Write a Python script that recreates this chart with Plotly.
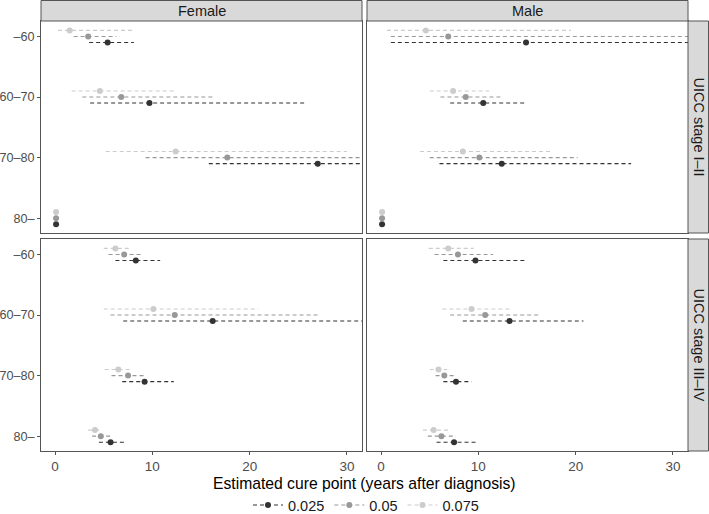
import plotly.graph_objects as go

# ---------------- data ----------------
ages = ["–60", "60–70", "70–80", "80–"]
levels = ["0.025", "0.05", "0.075"]
level_colors = ["#333333", "#989898", "#cccccc"]
sexes = ["Female", "Male"]
stages = ["UICC stage I–II", "UICC stage III–IV"]
x_ticks = [0, 10, 20, 30]

# each list: rows = levels (0.025, 0.05, 0.075), columns = age groups
female_I_II_est = [[5.4, 9.7, 27.0, 0.1], [3.4, 6.8, 17.7, 0.1], [1.5, 4.6, 12.4, 0.1]]
female_I_II_lo = [[3.5, 3.6, 15.8, 0.1], [1.9, 2.8, 9.3, 0.1], [0.3, 1.7, 5.2, 0.1]]
female_I_II_hi = [[8.1, 25.7, 40.0, 0.1], [6.3, 16.3, 38.0, 0.1], [8.1, 12.5, 30.0, 0.1]]

male_I_II_est = [[14.9, 10.5, 12.4, 0.1], [6.9, 8.7, 10.1, 0.1], [4.6, 7.4, 8.4, 0.1]]
male_I_II_lo = [[1.0, 7.1, 6.0, 0.1], [1.0, 6.1, 5.0, 0.1], [0.6, 5.0, 4.0, 0.1]]
male_I_II_hi = [[45.0, 15.0, 25.7, 0.1], [40.0, 12.3, 20.2, 0.1], [19.5, 11.1, 17.5, 0.1]]

female_III_IV_est = [[8.3, 16.2, 9.2, 5.7], [7.1, 12.3, 7.5, 4.7], [6.2, 10.1, 6.5, 4.1]]
female_III_IV_lo = [[6.2, 7.0, 6.9, 4.5], [5.5, 5.7, 5.8, 3.8], [5.0, 5.0, 5.1, 3.4]]
female_III_IV_hi = [[10.8, 40.0, 12.2, 7.1], [9.1, 27.1, 9.4, 5.7], [7.8, 20.9, 8.0, 4.6]]

male_III_IV_est = [[9.7, 13.2, 7.7, 7.5], [7.9, 10.7, 6.5, 6.2], [6.9, 9.3, 5.9, 5.4]]
male_III_IV_lo = [[6.4, 8.4, 6.4, 5.7], [5.5, 7.1, 5.6, 4.8], [4.9, 6.3, 5.0, 4.3]]
male_III_IV_hi = [[14.9, 20.8, 9.3, 9.9], [11.5, 16.2, 7.6, 7.7], [9.5, 13.4, 6.8, 6.9]]

panels = [
    (1, female_I_II_est, female_I_II_lo, female_I_II_hi),
    (2, male_I_II_est, male_I_II_lo, male_I_II_hi),
    (3, female_III_IV_est, female_III_IV_lo, female_III_IV_hi),
    (4, male_III_IV_est, male_III_IV_lo, male_III_IV_hi),
]

# ---------------- layout geometry ----------------
W, H = 709, 514
def px_x(p): return p / W
def px_y(p): return 1 - p / H

col_dom = [[px_x(41), px_x(362)], [px_x(367), px_x(688)]]
row_dom = [[px_y(233), px_y(21)], [px_y(451), px_y(239)]]

dodge = [0.1, 0.0, -0.1]
font_family = "Liberation Sans, Arial, sans-serif"
border_col = "#555555"

fig = go.Figure()

for idx, est, lo, hi in panels:
    sfx = "" if idx == 1 else str(idx)
    for li, lev in enumerate(levels):
        xs, ys = [], []
        for ai in range(len(ages)):
            y = ai + 1 + dodge[li]
            xs += [lo[li][ai], hi[li][ai], None]
            ys += [y, y, None]
        fig.add_trace(go.Scatter(
            x=xs, y=ys, mode="lines", xaxis="x" + sfx, yaxis="y" + sfx,
            line=dict(color=level_colors[li], width=1.1, dash="4px,3px"),
            showlegend=False, hoverinfo="skip"))
        fig.add_trace(go.Scatter(
            x=est[li], y=[ai + 1 + dodge[li] for ai in range(len(ages))],
            mode="markers", xaxis="x" + sfx, yaxis="y" + sfx,
            marker=dict(color=level_colors[li], size=6),
            showlegend=False, cliponaxis=True))

# legend entries
for li, lev in enumerate(levels):
    fig.add_trace(go.Scatter(
        x=[None], y=[None], mode="lines+markers", name=lev,
        line=dict(color=level_colors[li], width=1.1, dash="4px,3px"),
        marker=dict(color=level_colors[li], size=6), showlegend=True))

axis_common = dict(
    showgrid=False, zeroline=False, showline=True, mirror=True,
    linecolor=border_col, linewidth=1, ticks="outside", ticklen=3,
    tickcolor=border_col, tickwidth=1,
    tickfont=dict(family=font_family, size=12.6, color="#4d4d4d"))

layout = dict(
    width=W, height=H, margin=dict(l=0, r=0, t=0, b=0, autoexpand=False),
    paper_bgcolor="white", plot_bgcolor="white",
    font=dict(family=font_family),
    showlegend=True,
    legend=dict(orientation="h", x=px_x(366), xanchor="center", y=px_y(505), yanchor="middle",
                font=dict(family=font_family, size=14.5, color="#1a1a1a"),
                itemwidth=30, bgcolor="rgba(0,0,0,0)"),
)

for idx in range(1, 5):
    sfx = "" if idx == 1 else str(idx)
    r = (idx - 1) // 2
    c = (idx - 1) % 2
    xa = dict(axis_common)
    xa.update(domain=col_dom[c], anchor="y" + sfx, range=[-1.45, 31.55],
              tickvals=x_ticks, ticktext=[str(v) for v in x_ticks],
              showticklabels=(r == 1), ticks="outside" if r == 1 else "",
              tickfont=dict(family=font_family, size=13.5, color="#4d4d4d"))
    ya = dict(axis_common)
    ya.update(domain=row_dom[r], anchor="x" + sfx, range=[4.245, 0.745],
              tickvals=[1, 2, 3, 4], ticktext=ages,
              showticklabels=(c == 0), ticks="outside" if c == 0 else "")
    layout["xaxis" + sfx] = xa
    layout["yaxis" + sfx] = ya

fig.update_layout(**layout)

shapes = []
annotations = []
strip_fill = "#d9d9d9"
# top strips
for c, sex in enumerate(sexes):
    shapes.append(dict(type="rect", xref="paper", yref="paper",
                       x0=col_dom[c][0], x1=col_dom[c][1], y0=px_y(21), y1=px_y(0.5),
                       fillcolor=strip_fill, line=dict(color=border_col, width=1)))
    annotations.append(dict(xref="paper", yref="paper",
                            x=(col_dom[c][0] + col_dom[c][1]) / 2, y=px_y(11),
                            text=sex, showarrow=False, xanchor="center", yanchor="middle",
                            font=dict(family=font_family, size=14.5, color="#1a1a1a")))
# right strips
for r, st in enumerate(stages):
    shapes.append(dict(type="rect", xref="paper", yref="paper",
                       x0=px_x(688), x1=px_x(708.5), y0=row_dom[r][0], y1=row_dom[r][1],
                       fillcolor=strip_fill, line=dict(color=border_col, width=1)))
    annotations.append(dict(xref="paper", yref="paper",
                            x=px_x(698.5), y=(row_dom[r][0] + row_dom[r][1]) / 2,
                            text=st, showarrow=False, textangle=90,
                            xanchor="center", yanchor="middle",
                            font=dict(family=font_family, size=14.5, color="#1a1a1a")))
# x-axis title
annotations.append(dict(xref="paper", yref="paper",
                        x=(col_dom[0][0] + col_dom[1][1]) / 2, y=px_y(483),
                        text="Estimated cure point (years after diagnosis)",
                        showarrow=False, xanchor="center", yanchor="middle",
                        font=dict(family=font_family, size=15.7, color="#000000")))

fig.update_layout(shapes=shapes, annotations=annotations)

fig.write_html("out.html", config={"displayModeBar": False},
               post_script="document.body.style.margin='0';document.body.style.padding='0';")
